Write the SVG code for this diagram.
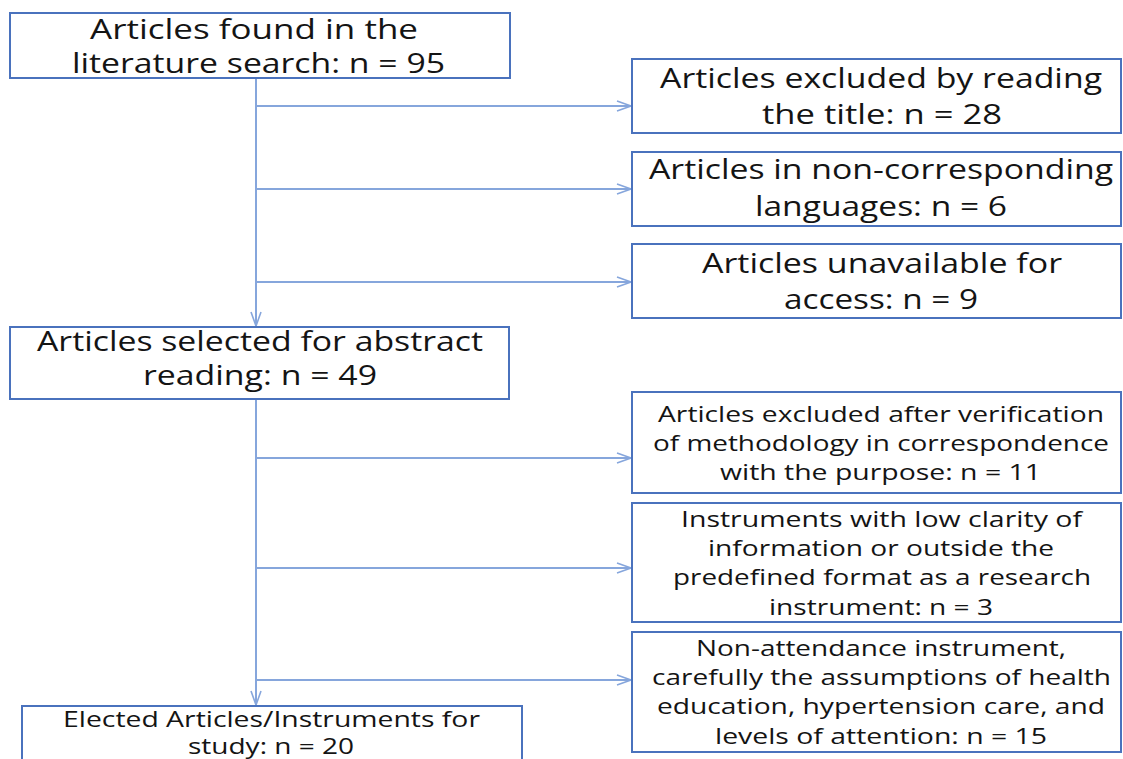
<svg xmlns="http://www.w3.org/2000/svg" width="1123" height="759" viewBox="0 0 1123 759">
<style>
.box{fill:#ffffff;stroke:#4a72bd;stroke-width:2}
.big{font-family:"Open Sans","Liberation Sans",sans-serif;font-size:27px;fill:#141414;text-anchor:middle}
.sm{font-family:"Open Sans","Liberation Sans",sans-serif;font-size:21px;fill:#141414;text-anchor:middle}
.ln{fill:none;stroke:#86a6dc;stroke-width:2}
</style>
<defs>
<marker id="arr" viewBox="0 0 16 12" refX="15" refY="6" markerWidth="16" markerHeight="12" markerUnits="userSpaceOnUse" orient="auto">
<path d="M1,1 L15,6 L1,11" fill="none" stroke="#86a6dc" stroke-width="1.6"/>
</marker>
</defs>
<rect width="1123" height="759" fill="#ffffff"/>
<g id="connectors">
<line class="ln" x1="256" y1="78" x2="256" y2="326" marker-end="url(#arr)"/>
<line class="ln" x1="256" y1="106" x2="631" y2="106" marker-end="url(#arr)"/>
<line class="ln" x1="256" y1="189" x2="631" y2="189" marker-end="url(#arr)"/>
<line class="ln" x1="256" y1="282" x2="631" y2="282" marker-end="url(#arr)"/>
<line class="ln" x1="256" y1="399" x2="256" y2="705" marker-end="url(#arr)"/>
<line class="ln" x1="256" y1="458" x2="631" y2="458" marker-end="url(#arr)"/>
<line class="ln" x1="256" y1="568" x2="631" y2="568" marker-end="url(#arr)"/>
<line class="ln" x1="256" y1="680" x2="631" y2="680" marker-end="url(#arr)"/>
</g>
<g id="n1">
<rect class="box" x="10" y="13" width="500" height="65"/>
<text class="big" x="254" y="39" textLength="328" lengthAdjust="spacingAndGlyphs">Articles found in the</text>
<text class="big" x="258.5" y="73" textLength="373" lengthAdjust="spacingAndGlyphs">literature search: n = 95</text>
</g>
<g id="n2">
<rect class="box" x="632" y="59" width="489" height="74"/>
<text class="big" x="881" y="88" textLength="442" lengthAdjust="spacingAndGlyphs">Articles excluded by reading</text>
<text class="big" x="882" y="124" textLength="240" lengthAdjust="spacingAndGlyphs">the title: n = 28</text>
</g>
<g id="n3">
<rect class="box" x="632" y="152" width="489" height="74"/>
<text class="big" x="881" y="179" textLength="464" lengthAdjust="spacingAndGlyphs">Articles in non-corresponding</text>
<text class="big" x="881" y="216" textLength="252" lengthAdjust="spacingAndGlyphs">languages: n = 6</text>
</g>
<g id="n4">
<rect class="box" x="632" y="244" width="489" height="74"/>
<text class="big" x="882" y="273" textLength="360" lengthAdjust="spacingAndGlyphs">Articles unavailable for</text>
<text class="big" x="881" y="309" textLength="194" lengthAdjust="spacingAndGlyphs">access: n = 9</text>
</g>
<g id="n5">
<rect class="box" x="10" y="327" width="499" height="72"/>
<text class="big" x="260" y="351" textLength="446" lengthAdjust="spacingAndGlyphs">Articles selected for abstract</text>
<text class="big" x="260" y="385" textLength="234" lengthAdjust="spacingAndGlyphs">reading: n = 49</text>
</g>
<g id="n6">
<rect class="box" x="632" y="392" width="489" height="101"/>
<text class="sm" x="881" y="422" textLength="446" lengthAdjust="spacingAndGlyphs">Articles excluded after verification</text>
<text class="sm" x="881" y="451" textLength="456" lengthAdjust="spacingAndGlyphs">of methodology in correspondence</text>
<text class="sm" x="880.5" y="480" textLength="321" lengthAdjust="spacingAndGlyphs">with the purpose: n = 11</text>
</g>
<g id="n7">
<rect class="box" x="632" y="503" width="489" height="119"/>
<text class="sm" x="881.5" y="527" textLength="401" lengthAdjust="spacingAndGlyphs">Instruments with low clarity of</text>
<text class="sm" x="881" y="556" textLength="346" lengthAdjust="spacingAndGlyphs">information or outside the</text>
<text class="sm" x="882" y="585" textLength="418" lengthAdjust="spacingAndGlyphs">predefined format as a research</text>
<text class="sm" x="881" y="615" textLength="224" lengthAdjust="spacingAndGlyphs">instrument: n = 3</text>
</g>
<g id="n8">
<rect class="box" x="632" y="632" width="489" height="120"/>
<text class="sm" x="881" y="656" textLength="370" lengthAdjust="spacingAndGlyphs">Non-attendance instrument,</text>
<text class="sm" x="881.5" y="685" textLength="459" lengthAdjust="spacingAndGlyphs">carefully the assumptions of health</text>
<text class="sm" x="881" y="714" textLength="448" lengthAdjust="spacingAndGlyphs">education, hypertension care, and</text>
<text class="sm" x="881" y="744" textLength="332" lengthAdjust="spacingAndGlyphs">levels of attention: n = 15</text>
</g>
<g id="n9">
<rect class="box" x="22" y="706" width="500" height="70"/>
<text class="sm" x="271.5" y="727" textLength="417" lengthAdjust="spacingAndGlyphs">Elected Articles/Instruments for</text>
<text class="sm" x="271" y="754" textLength="166" lengthAdjust="spacingAndGlyphs">study: n = 20</text>
</g>
</svg>
